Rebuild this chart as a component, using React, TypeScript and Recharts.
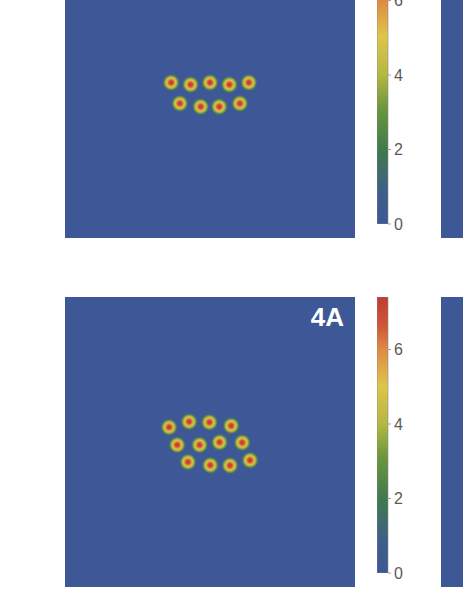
import React from 'react';
import { ScatterChart, Scatter, XAxis, YAxis, ReferenceArea, BarChart, Bar } from 'recharts';

// Spot centres (panel data coordinates, 0-100 on both axes)
const spotsUpperX = [36.6, 43.3, 50.0, 56.7, 63.4, 39.6, 46.8, 53.2, 60.3];
const spotsUpperY = [53.6, 52.9, 53.6, 52.9, 53.6, 46.4, 45.3, 45.3, 46.4];

const spots4AX = [35.9, 42.8, 49.8, 57.3, 38.7, 46.4, 53.3, 61.1, 42.4, 50.1, 56.9, 63.8];
const spots4AY = [55.1, 57.0, 56.8, 55.6, 49.0, 49.0, 49.9, 49.8, 43.1, 42.0, 41.9, 43.7];

const panelLabels = ['', '4A', '', ''];
const colorbarTicks = [0, 2, 4, 6];
const colorbarMax = 7.41;

const BG = '#3e5796';
const FONT = '"Liberation Sans", Arial, sans-serif';

const toPoints = (xs: number[], ys: number[]) => xs.map((x, i) => ({ x, y: ys[i] }));

const SpotShape = (props: any) => {
  const { cx, cy } = props;
  if (cx == null || cy == null) return null;
  return <circle cx={cx} cy={cy} r={9} fill="url(#spotGrad)" />;
};

function Panel({ left, top, points, label }: { left: number; top: number; points: { x: number; y: number }[]; label: string }) {
  return (
    <div style={{ position: 'absolute', left, top, width: 290, height: 290, background: BG }}>
      <ScatterChart width={290} height={290} margin={{ top: 0, right: 0, bottom: 0, left: 0 }}>
        <defs>
          <radialGradient id="spotGrad" cx="50%" cy="50%" r="50%">
            <stop offset="0%" stopColor="#c4362f" />
            <stop offset="20%" stopColor="#cc4834" />
            <stop offset="36%" stopColor="#de8a42" />
            <stop offset="50%" stopColor="#d9c24a" />
            <stop offset="64%" stopColor="#a6b441" />
            <stop offset="80%" stopColor="#5a8c46" stopOpacity={0.85} />
            <stop offset="100%" stopColor={BG} stopOpacity={0} />
          </radialGradient>
        </defs>
        <XAxis type="number" dataKey="x" domain={[0, 100]} hide />
        <YAxis type="number" dataKey="y" domain={[0, 100]} hide />
        {label ? (
          <ReferenceArea
            x1={0}
            x2={100}
            y1={0}
            y2={100}
            fill="none"
            stroke="none"
            label={{ value: label, position: 'insideTopRight', offset: 11, fill: '#ffffff', fontSize: 26, fontWeight: 700, fontFamily: FONT }}
          />
        ) : null}
        <Scatter data={points} shape={SpotShape} isAnimationActive={false} />
      </ScatterChart>
    </div>
  );
}

function Colorbar({ left, top }: { left: number; top: number }) {
  const data = [{ name: 'c', v: colorbarMax }];
  return (
    <div style={{ position: 'absolute', left, top }}>
      <BarChart width={50} height={290} data={data} margin={{ top: 0, right: 0, bottom: 14, left: 0 }} barCategoryGap={0}>
        <defs>
          <linearGradient id="cbGrad" x1="0" y1="1" x2="0" y2="0">
            <stop offset="0%" stopColor="#3d5796" />
            <stop offset="12%" stopColor="#3e5f88" />
            <stop offset="27%" stopColor="#3f7a4c" />
            <stop offset="42%" stopColor="#6b973c" />
            <stop offset="54%" stopColor="#b4b842" />
            <stop offset="68%" stopColor="#dec44c" />
            <stop offset="81%" stopColor="#de8a44" />
            <stop offset="90%" stopColor="#cf5439" />
            <stop offset="100%" stopColor="#c13a35" />
          </linearGradient>
        </defs>
        <XAxis dataKey="name" hide />
        <YAxis
          orientation="right"
          type="number"
          domain={[0, colorbarMax]}
          ticks={colorbarTicks}
          interval={0}
          width={39}
          axisLine={false}
          tickLine={{ stroke: '#a0a0a0' }}
          tickSize={3}
          tickMargin={3}
          tick={{ fill: '#5a5a5a', fontSize: 16, fontFamily: FONT }}
          allowDataOverflow
        />
        <Bar dataKey="v" fill="url(#cbGrad)" stroke="#8c8c8c" strokeWidth={0.6} isAnimationActive={false} />
      </BarChart>
    </div>
  );
}

export default function App() {
  return (
    <div style={{ position: 'fixed', left: 0, top: 0, width: 463, height: 599, overflow: 'hidden', background: '#ffffff', fontFamily: FONT }}>
      <Panel left={65} top={-52} points={toPoints(spotsUpperX, spotsUpperY)} label={panelLabels[0]} />
      <Colorbar left={377} top={-52} />
      <Panel left={441} top={-52} points={[]} label={panelLabels[2]} />
      <Panel left={65} top={297} points={toPoints(spots4AX, spots4AY)} label={panelLabels[1]} />
      <Colorbar left={377} top={297} />
      <Panel left={441} top={297} points={[]} label={panelLabels[3]} />
    </div>
  );
}
